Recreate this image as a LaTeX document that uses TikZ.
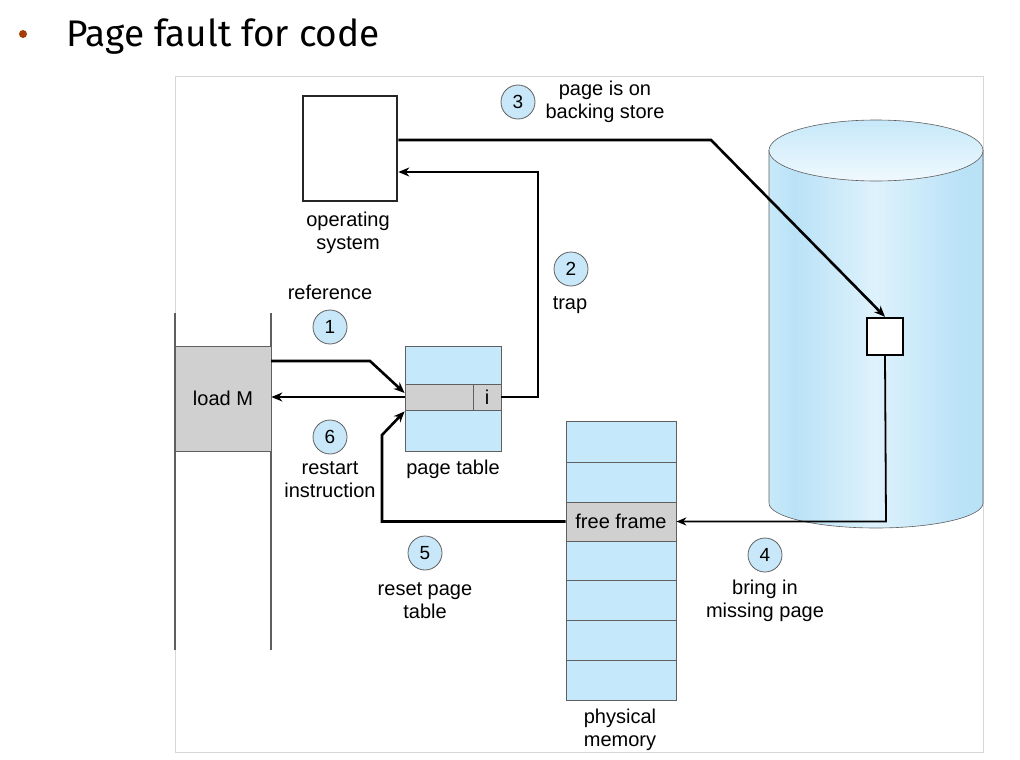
\documentclass[tikz,border=0pt]{standalone}
\usepackage{fontspec}
\setmainfont{Liberation Sans}
\newfontfamily\titlefont{Fira Sans}
\usetikzlibrary{arrows.meta,calc}
\definecolor{lblue}{RGB}{197,233,250}
\definecolor{cblue}{RGB}{200,232,250}
\definecolor{gfill}{RGB}{208,208,208}
\definecolor{ogray}{RGB}{95,95,95}
\definecolor{framegray}{RGB}{215,215,215}
\definecolor{bulletbrown}{RGB}{165,60,10}
\definecolor{cylA}{RGB}{200,234,250}
\definecolor{cylB}{RGB}{186,226,247}
\definecolor{cylC}{RGB}{222,242,252}
\definecolor{topA}{RGB}{198,232,249}
\definecolor{topB}{RGB}{240,249,254}
\pgfdeclarehorizontalshading{cylbody}{100bp}{color(0bp)=(cylA); color(25bp)=(cylA); color(31bp)=(cylB); color(50bp)=(cylC); color(70bp)=(cylB); color(75bp)=(cylB); color(100bp)=(cylB)}
\begin{document}
\begin{tikzpicture}[x=1pt,y=-1pt,
  lbl/.style={font=\fontsize{20}{23}\selectfont, align=center, inner sep=0pt},
  numc/.style={circle, draw=ogray, line width=0.8pt, fill=cblue, minimum size=34pt, inner sep=0pt, font=\fontsize{19}{19}\selectfont},
  cell/.style={draw=ogray, line width=0.8pt, inner sep=0pt, anchor=center},
  arr/.style={line width=2.6pt, -{Stealth[length=11pt,width=9pt]}, line join=miter},
  thinarr/.style={line width=1.8pt, -{Stealth[length=10pt,width=8pt]}, line join=miter}
]
\useasboundingbox (0,0) rectangle (1020,760);
% title
\node[circle, fill=bulletbrown, minimum size=8pt, inner sep=0pt] (bullet) at (23,34) {};
\node[anchor=base west, inner sep=0pt, font=\titlefont\fontsize{37}{37}\selectfont] (title) at (66,47) {Page fault for code};
% frame
\draw[framegray, line width=0.8pt] (175,76) rectangle (983,752);
% cylinder
\path[shading=cylbody] (769,150) -- (769,503) arc[start angle=180, end angle=360, x radius=107pt, y radius=25pt] -- (983,150) -- cycle;
\draw[ogray, line width=0.6pt] (769,150) -- (769,503) arc[start angle=180, end angle=360, x radius=107pt, y radius=25pt] -- (983,150);
\draw[ogray, line width=0.6pt, top color=topA, bottom color=topB] (876,150.5) ellipse[x radius=107pt, y radius=30.5pt];
\node[draw=black, line width=2.4pt, fill=white, minimum width=36pt, minimum height=37pt, inner sep=0pt] (disk) at (885,336.5) {};
% OS
\node[draw=black!85, line width=2.6pt, minimum width=94pt, minimum height=105pt, inner sep=0pt] (os) at (350,148.5) {};
\node[lbl] (oslbl) at (348,233) {operating\\system};
% program
\draw[ogray, line width=1.1pt] (175,313) -- (175,650);
\draw[ogray, line width=1.1pt] (271,313) -- (271,650);
\node[cell, fill=gfill, minimum width=96pt, minimum height=105pt, font=\fontsize{20}{23}\selectfont] (loadm) at (223,398.5) {load M};
% page table
\node[cell, fill=lblue, minimum width=96pt, minimum height=105pt] (pt) at (453,398.5) {};
\node[cell, fill=gfill, minimum width=68pt, minimum height=26pt] (ptrow) at (439,397) {};
\node[cell, fill=gfill, minimum width=28pt, minimum height=26pt, font=\fontsize{20}{23}\selectfont] (icell) at (487,397) {i};
\node[lbl] (ptlbl) at (453,469) {page table};
% physical memory
\node[cell, fill=lblue, minimum width=110pt, minimum height=41pt] (m1) at (621,441.5) {};
\node[cell, fill=lblue, minimum width=110pt, minimum height=40pt] (m2) at (621,482) {};
\node[cell, fill=gfill, minimum width=110pt, minimum height=39pt, font=\fontsize{20}{23}\selectfont] (free) at (621,521.5) {free frame};
\node[cell, fill=lblue, minimum width=110pt, minimum height=39pt] (m4) at (621,560.5) {};
\node[cell, fill=lblue, minimum width=110pt, minimum height=40pt] (m5) at (621,600) {};
\node[cell, fill=lblue, minimum width=110pt, minimum height=40pt] (m6) at (621,640) {};
\node[cell, fill=lblue, minimum width=110pt, minimum height=40pt] (m7) at (621,680) {};
\node[lbl] (pmlbl) at (620,730) {physical\\memory};
% step circles and labels
\node[numc] (c1) at (330,327) {1};
\node[numc] (c2) at (571,269) {2};
\node[numc] (c3) at (518,102) {3};
\node[numc] (c4) at (765,555) {4};
\node[numc] (c5) at (425,553) {5};
\node[numc] (c6) at (330,437) {6};
\node[lbl] (l1) at (330,292) {reference};
\node[lbl] (l2) at (570,305) {trap};
\node[lbl] (l3) at (605,102) {page is on\\backing store};
\node[lbl] (l4) at (765,601) {bring in\\missing page};
\node[lbl] (l5) at (425,601) {reset page\\table};
\node[lbl] (l6) at (330,480) {restart\\instruction};
% connectors
\coordinate (a1s) at (271,361);
\coordinate (a1m) at (370,361);
\draw[arr] (a1s) -- (a1m) -- ($(ptrow.west)+(0,-4)$);
\draw[arr] (ptrow.west) -- (ptrow.west -| loadm.east);
\coordinate (t1) at (538,397);
\coordinate (t2) at (538,172);
\draw[arr] (icell.east) -- (t1) -- (t2) -- (t2 -| os.east);
\coordinate (b1) at (711,140);
\draw[arr] (b1 -| os.east) -- (b1) -- (disk.north);
\coordinate (d1) at (886,521.5);
\draw[thinarr] (disk.south) -- (d1) -- (free.east);
\coordinate (r1) at (382,521.5);
\coordinate (r2) at (382,435);
\draw[arr] (free.west) -- (r1) -- (r2) -- ($(ptrow.south west)+(0,1)$);
\end{tikzpicture}
\end{document}
